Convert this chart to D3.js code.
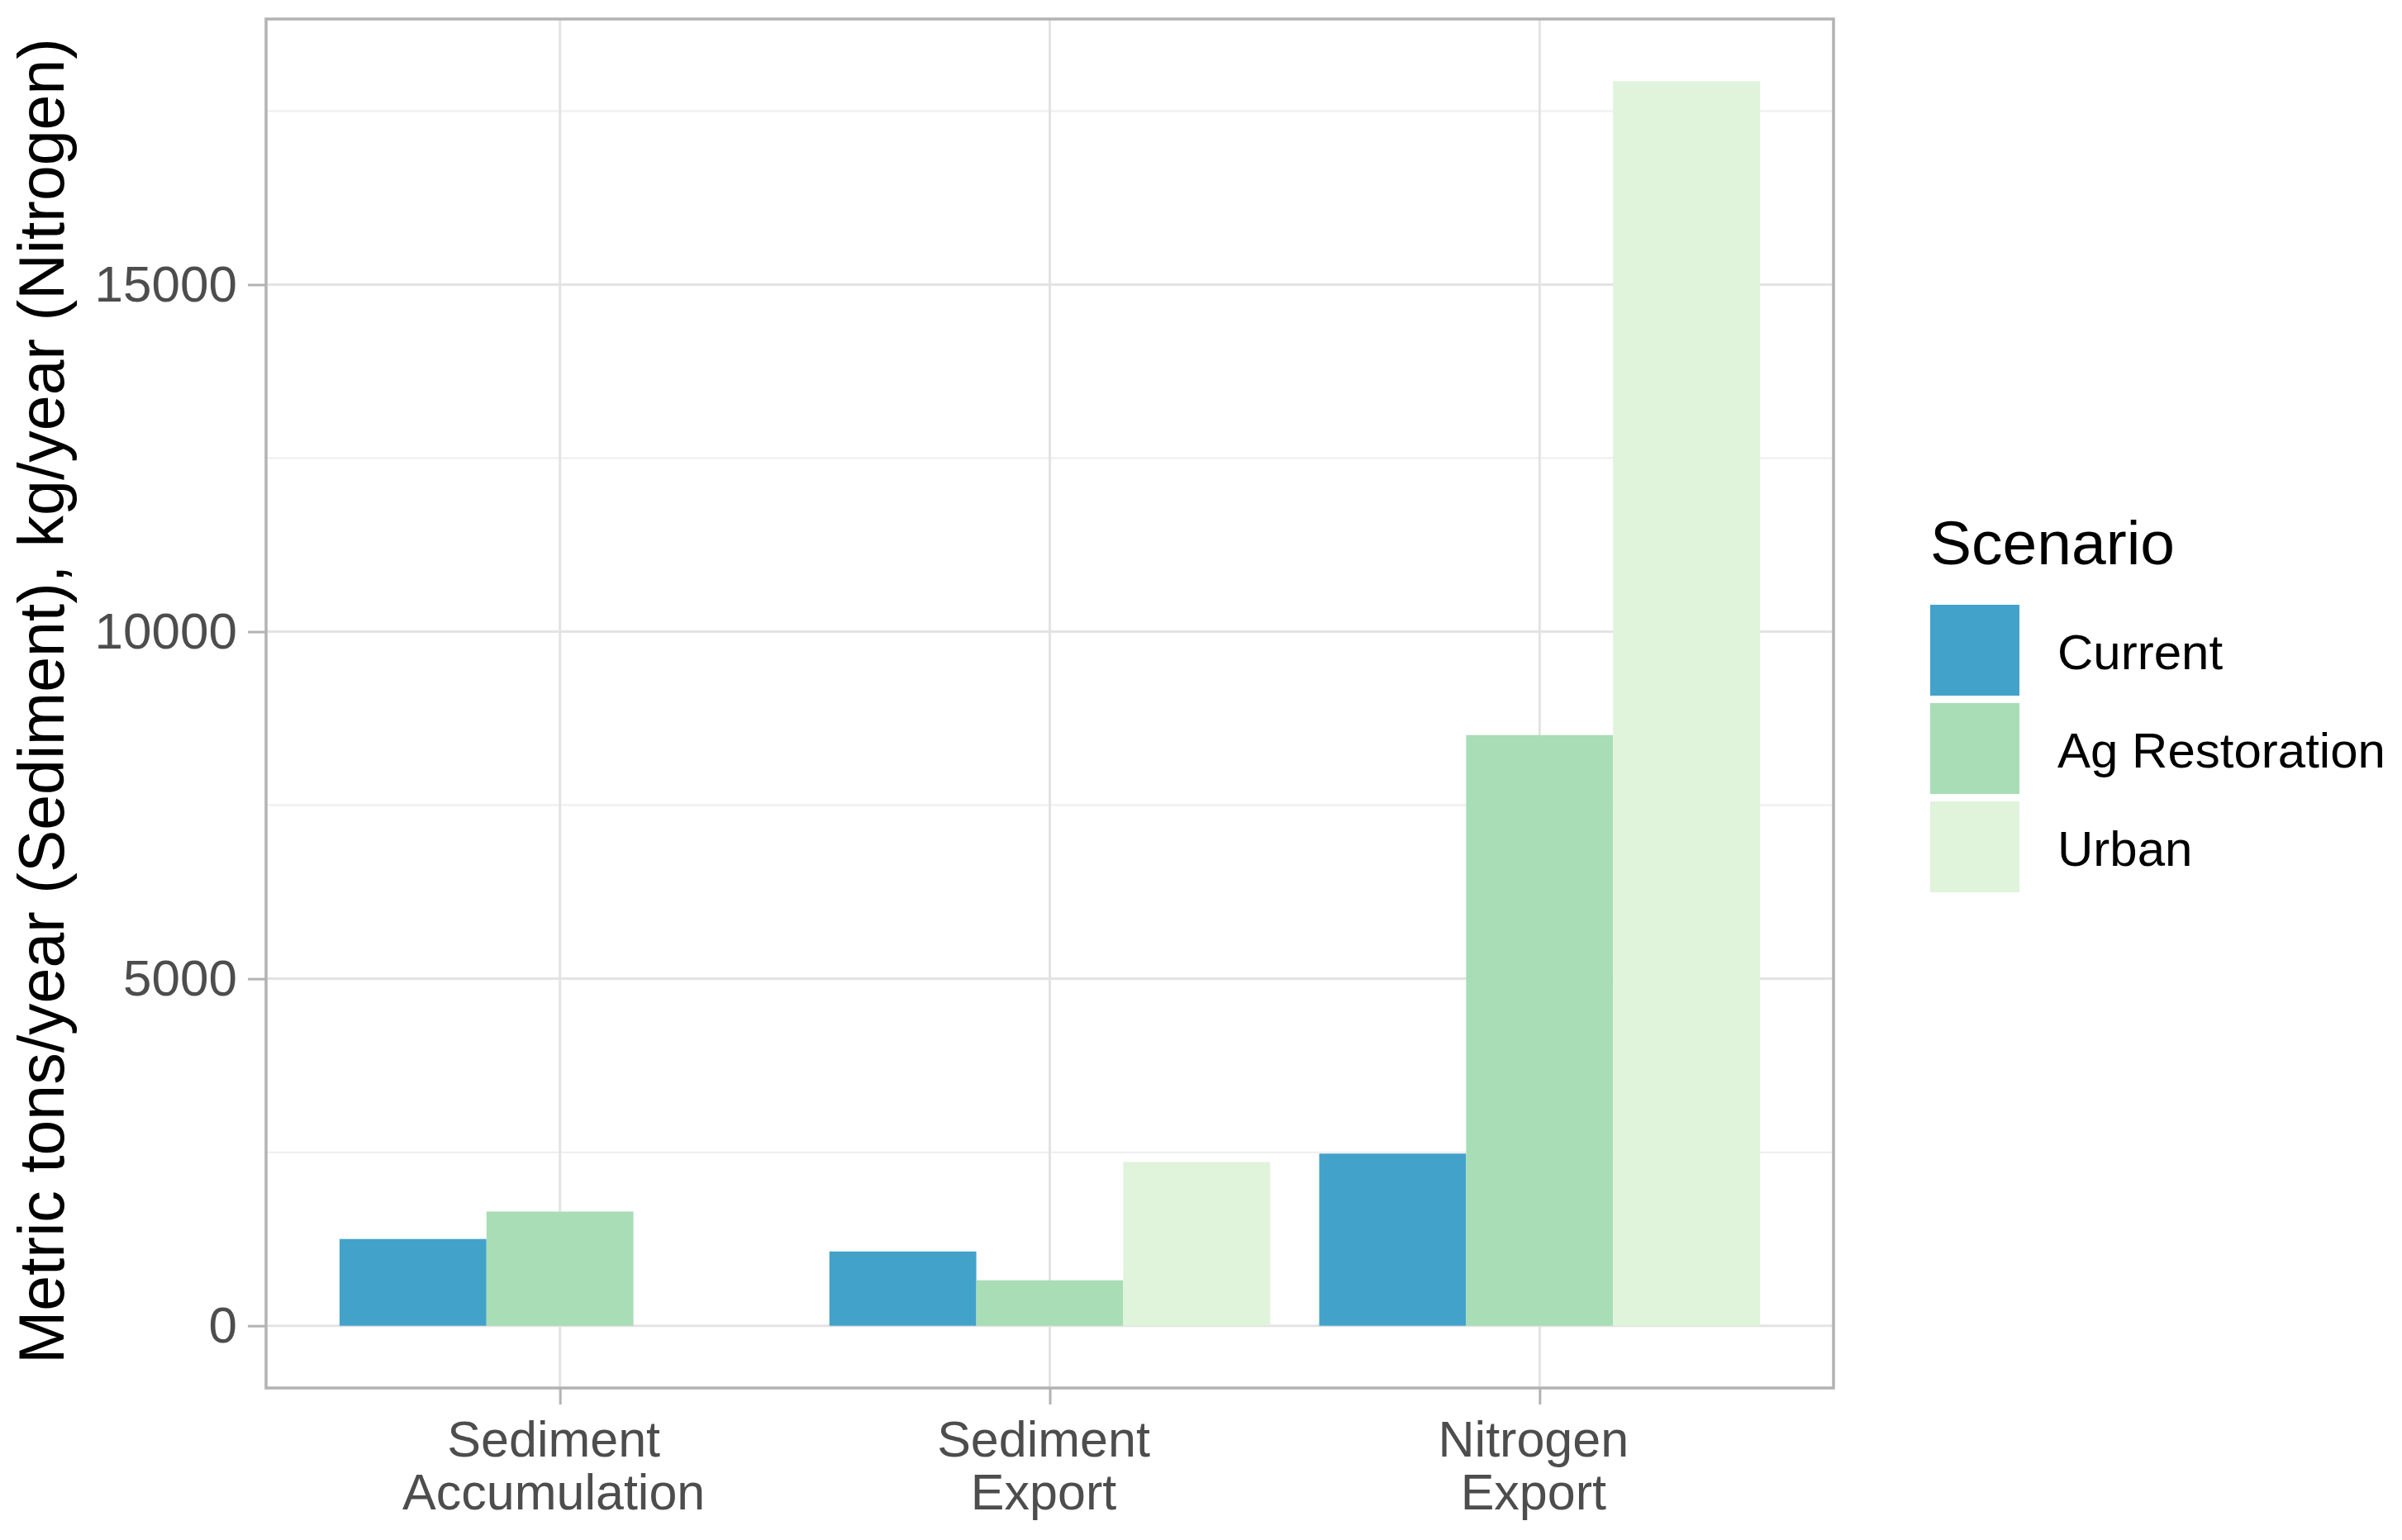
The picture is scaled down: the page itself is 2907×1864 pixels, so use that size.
<!DOCTYPE html>
<html>
<head>
<meta charset="utf-8">
<script src="https://cdn.jsdelivr.net/npm/d3@7"></script>
<style>
  body { margin: 0; background: #fff; }
  svg { display: block; font-family: "Liberation Sans", Arial, sans-serif; }
</style>
</head>
<body>
<div class="chart"></div>
<script>
const categories = ["Sediment Accumulation", "Sediment Export", "Nitrogen Export"]
const categoryLabels = [["Sediment", "Accumulation"], ["Sediment", "Export"], ["Nitrogen", "Export"]]
const scenarios = ["Current", "Ag Restoration", "Urban"]
const current = [1250, 1070, 2480]
const agRestoration = [1645, 655, 8510]
const urban = [0, 2360, 17930]
const yTicks = [0, 5000, 10000, 15000]
const yMinorTicks = [2500, 7500, 12500, 17500]
const colors = ["#43a2ca", "#a8ddb5", "#e0f3db"]

const W = 2907, H = 1864
const panel = { left: 322, right: 2219, top: 23, bottom: 1680 }

const seriesValues = [current, agRestoration, urban]
const data = []
categories.forEach(function (c, i) {
    scenarios.forEach(function (s, j) {
        data.push({ category: c, scenario: s, value: seriesValues[j][i] })
    })
})

const svg = d3.select(".chart")
    .append("svg")
    .attr("width", W)
    .attr("height", H)

// ggplot style: 5% expansion on the continuous axis
const maxVal = d3.max(data, d => d.value)
const y = d3.scaleLinear()
    .domain([-0.05 * maxVal, 1.05 * maxVal])
    .range([panel.bottom, panel.top])

const x = d3.scalePoint()
    .domain(categories)
    .range([panel.left, panel.right])
    .padding(0.6)

const step = x.step()
const x1 = d3.scaleBand()
    .domain(scenarios)
    .range([-0.45 * step, 0.45 * step])

const color = d3.scaleOrdinal().domain(scenarios).range(colors)

// grid
svg.selectAll("line.minor")
    .data(yMinorTicks)
    .enter().append("line")
    .attr("x1", panel.left).attr("x2", panel.right)
    .attr("y1", d => y(d)).attr("y2", d => y(d))
    .style("stroke", "#eeeeee")
    .style("stroke-width", 2)

svg.selectAll("line.major")
    .data(yTicks)
    .enter().append("line")
    .attr("x1", panel.left).attr("x2", panel.right)
    .attr("y1", d => y(d)).attr("y2", d => y(d))
    .style("stroke", "#e3e3e3")
    .style("stroke-width", 3)

svg.selectAll("line.vgrid")
    .data(categories)
    .enter().append("line")
    .attr("x1", d => x(d)).attr("x2", d => x(d))
    .attr("y1", panel.top).attr("y2", panel.bottom)
    .style("stroke", "#e3e3e3")
    .style("stroke-width", 3)

// bars
svg.selectAll(".bar")
    .data(data)
    .enter().append("rect")
    .attr("class", "bar")
    .attr("x", d => x(d.category) + x1(d.scenario))
    .attr("width", x1.bandwidth())
    .attr("y", d => y(d.value))
    .attr("height", d => y(0) - y(d.value))
    .style("fill", d => color(d.scenario))

// panel border
svg.append("rect")
    .attr("x", panel.left).attr("y", panel.top)
    .attr("width", panel.right - panel.left)
    .attr("height", panel.bottom - panel.top)
    .style("fill", "none")
    .style("stroke", "#b3b3b3")
    .style("stroke-width", 3.5)

// y axis
svg.append("g")
    .attr("transform", `translate(${panel.left},0)`)
    .call(d3.axisLeft(y).tickValues(yTicks).tickSize(22).tickPadding(13).tickFormat(d3.format("d")))
    .call(g => g.select(".domain").remove())
    .call(g => g.selectAll(".tick line").style("stroke", "#b3b3b3").style("stroke-width", 3))
    .selectAll("text")
    .style("font-size", "62px")
    .style("font-family", "Liberation Sans, Arial, sans-serif")
    .style("fill", "#4d4d4d")

// x axis
const xAxis = svg.append("g")
    .attr("transform", `translate(0,${panel.bottom})`)
    .call(d3.axisBottom(x).tickSize(20).tickFormat(""))
    .call(g => g.select(".domain").remove())
    .call(g => g.selectAll(".tick line").style("stroke", "#b3b3b3").style("stroke-width", 3))

xAxis.selectAll(".tick")
    .append("text")
    .attr("text-anchor", "middle")
    .style("font-size", "61px")
    .style("font-family", "Liberation Sans, Arial, sans-serif")
    .style("fill", "#4d4d4d")
    .selectAll("tspan")
    .data((d, i) => categoryLabels[i])
    .enter().append("tspan")
    .attr("x", -8)
    .attr("y", (d, i) => 83 + i * 64)
    .text(d => d)

// y axis title
svg.append("text")
    .attr("transform", `translate(77,${(panel.top + panel.bottom) / 2 - 3}) rotate(-90)`)
    .attr("text-anchor", "middle")
    .style("font-size", "77px")
    .style("fill", "#000")
    .text("Metric tons/year (Sediment), kg/year (Nitrogen)")

// legend
const legend = svg.append("g").attr("transform", "translate(2336,0)")

legend.append("text")
    .attr("x", 0)
    .attr("y", 683)
    .style("font-size", "75px")
    .style("fill", "#000")
    .text("Scenario")

const items = legend.selectAll(".item")
    .data(scenarios)
    .enter().append("g")
    .attr("transform", (d, i) => `translate(0,${732 + i * 119})`)

items.append("rect")
    .attr("width", 108)
    .attr("height", 110)
    .style("fill", d => color(d))

items.append("text")
    .attr("x", 154)
    .attr("y", 57)
    .attr("dy", "0.35em")
    .style("font-size", "60px")
    .style("fill", "#000")
    .text(d => d)
</script>
</body>
</html>
